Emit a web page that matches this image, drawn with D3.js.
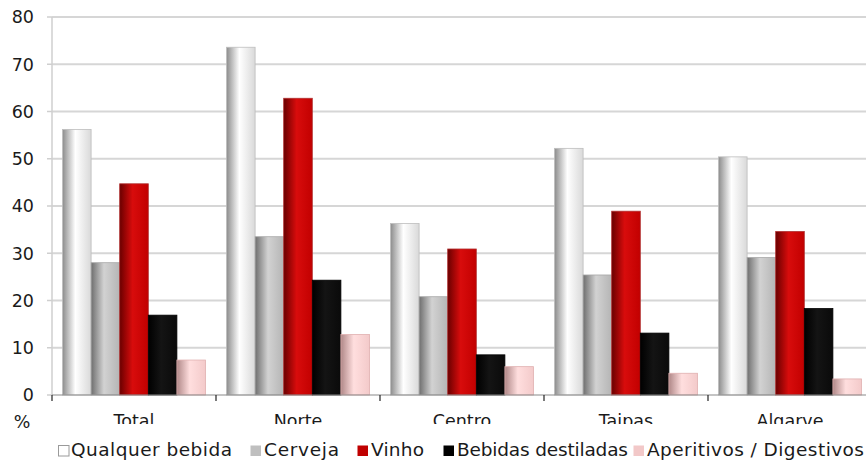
<!DOCTYPE html>
<html>
<head>
<meta charset="utf-8">
<script src="https://cdn.jsdelivr.net/npm/d3@7"></script>
<style>
  html, body { margin: 0; padding: 0; background: #fff; }
  svg { display: block; }
  text { font-family: "DejaVu Sans", sans-serif; fill: #1a1a1a; }
</style>
</head>
<body>
<svg id="chart" width="866" height="464"></svg>
<script>
const regions = ["Total", "Norte", "Centro", "Tajpas", "Algarve"];
const series = ["Qualquer bebida", "Cerveja", "Vinho", "Bebidas destiladas", "Aperitivos / Digestivos"];
const qualquer = [56.2, 73.6, 36.3, 52.2, 50.4];
const cerveja = [28.0, 33.5, 20.8, 25.4, 29.1];
const vinho = [44.7, 62.8, 30.9, 38.9, 34.6];
const destiladas = [16.9, 24.3, 8.5, 13.1, 18.3];
const aperitivos = [7.4, 12.8, 6.0, 4.6, 3.4];
const yTicks = [0, 10, 20, 30, 40, 50, 60, 70, 80];

const values = [qualquer, cerveja, vinho, destiladas, aperitivos];

// gradient stops per series: left edge, highlight, right edge
const shades = [
  ["#8c8c8c", "#ffffff", "#d9d9d9"],
  ["#6e6e6e", "#d2d2d2", "#b5b5b5"],
  ["#6a0000", "#d80c0c", "#c20000"],
  ["#000000", "#141414", "#0a0a0a"],
  ["#b08888", "#ffdede", "#f3caca"]
];
const swatch = ["#ffffff", "#bfbfbf", "#c00000", "#000000", "#f2c8c8"];
const outline = ["#bdbdbd", "#a8a8a8", "#b03030", "#000000", "#e0b0b0"];

const svg = d3.select("#chart");
const defs = svg.append("defs");

shades.forEach((s, i) => {
  const g = defs.append("linearGradient")
    .attr("id", "grad" + i)
    .attr("x1", "0").attr("x2", "1").attr("y1", "0").attr("y2", "0");
  g.append("stop").attr("offset", "0").attr("stop-color", s[0]);
  g.append("stop").attr("offset", "0.45").attr("stop-color", s[1]);
  g.append("stop").attr("offset", "1").attr("stop-color", s[2]);
});

defs.append("clipPath").attr("id", "labelClip")
  .append("rect").attr("x", 0).attr("y", 0).attr("width", 866).attr("height", 424);

const x0 = d3.scaleBand().domain(regions).range([52, 872]);
const bw = x0.bandwidth();
const x1 = d3.scaleBand().domain(series).range([10.5, bw - 10.5]);
const y = d3.scaleLinear().domain([0, 80]).range([395, 17]);

// gridlines
svg.append("g")
  .selectAll("line")
  .data(yTicks.filter((d) => d > 0))
  .join("line")
  .attr("x1", 52).attr("x2", 872)
  .attr("y1", (d) => y(d)).attr("y2", (d) => y(d))
  .attr("stroke", "#d6d6d6").attr("stroke-width", 2);

// y axis
svg.append("line")
  .attr("x1", 52).attr("x2", 52).attr("y1", y(80)).attr("y2", y(0))
  .attr("stroke", "#cfcfcf").attr("stroke-width", 1.5);

svg.append("g")
  .selectAll("line")
  .data(yTicks)
  .join("line")
  .attr("x1", 47).attr("x2", 52)
  .attr("y1", (d) => y(d)).attr("y2", (d) => y(d))
  .attr("stroke", "#cfcfcf").attr("stroke-width", 1.5);

svg.append("g")
  .selectAll("text")
  .data(yTicks)
  .join("text")
  .attr("x", 34)
  .attr("y", (d) => y(d))
  .attr("dy", "0.36em")
  .attr("text-anchor", "end")
  .attr("font-size", 17.5)
  .text((d) => d);

// bars
const groups = svg.append("g")
  .selectAll("g")
  .data(regions)
  .join("g")
  .attr("transform", (d) => `translate(${x0(d)},0)`);

groups.selectAll("rect")
  .data((d, ri) => series.map((s, si) => ({ s, si, v: values[si][ri] })))
  .join("rect")
  .attr("x", (d) => x1(d.s))
  .attr("y", (d) => y(d.v))
  .attr("width", x1.bandwidth())
  .attr("height", (d) => y(0) - y(d.v))
  .attr("fill", (d) => `url(#grad${d.si})`)
  .attr("stroke", (d) => outline[d.si])
  .attr("stroke-width", 0.8);

// x axis
svg.append("line")
  .attr("x1", 52).attr("x2", 872).attr("y1", y(0)).attr("y2", y(0))
  .attr("stroke", "#8a8a8a").attr("stroke-width", 1.2);

svg.append("g")
  .selectAll("line")
  .data(d3.range(regions.length + 1))
  .join("line")
  .attr("x1", (i) => 52 + i * bw).attr("x2", (i) => 52 + i * bw)
  .attr("y1", y(0)).attr("y2", y(0) + 6)
  .attr("stroke", "#222").attr("stroke-width", 1.2);

svg.append("g")
  .attr("clip-path", "url(#labelClip)")
  .selectAll("text")
  .data(regions)
  .join("text")
  .attr("x", (d) => x0(d) + bw / 2)
  .attr("y", 427)
  .attr("text-anchor", "middle")
  .attr("font-size", 17.5)
  .text((d) => d);

svg.append("text")
  .attr("x", 22).attr("y", 428)
  .attr("text-anchor", "middle")
  .attr("font-size", 17.5)
  .text("%");

// legend
const legendX = [58, 250, 357, 443, 633];
const legendW = [161, 75, 53, 171, 217];
const legend = svg.append("g")
  .selectAll("g")
  .data(series)
  .join("g")
  .attr("transform", (d, i) => `translate(${legendX[i]},445)`);

legend.append("rect")
  .attr("x", 0.5).attr("y", 0.5)
  .attr("width", 10.5).attr("height", 10.5)
  .attr("fill", (d, i) => swatch[i])
  .attr("stroke", (d, i) => (i === 0 ? "#9a9a9a" : "none"));

legend.append("text")
  .attr("x", (d, i) => (i === 0 ? 13 : 14))
  .attr("y", 11)
  .attr("font-size", 18.5)
  .attr("textLength", (d, i) => legendW[i])
  .attr("lengthAdjust", "spacing")
  .text((d) => d);
</script>
</body>
</html>
